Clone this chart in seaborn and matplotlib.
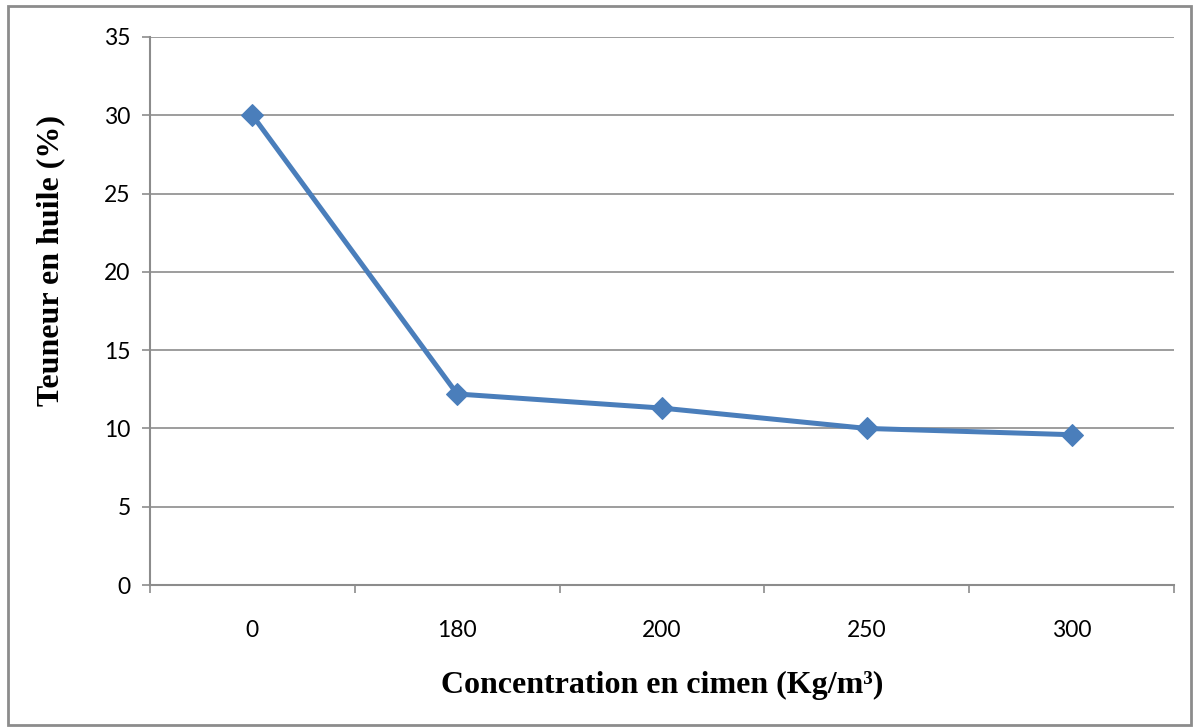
import matplotlib
matplotlib.use("Agg")
import matplotlib.pyplot as plt
import seaborn as sns
import pandas as pd
from matplotlib.patches import Rectangle

categories = ["0", "180", "200", "250", "300"]
teneur = [30.0, 12.2, 11.3, 10.0, 9.6]
yticks = [0, 5, 10, 15, 20, 25, 30, 35]

sns.set_theme(style="white")
plt.rcParams['font.family'] = ['Lato', 'DejaVu Sans']

df = pd.DataFrame({"cat": categories, "val": teneur})

fig = plt.figure(figsize=(11.99, 7.28), dpi=100)
ax = fig.add_axes([0.1251, 0.1964, 0.854, 0.7528])

sns.lineplot(data=df, x="cat", y="val", ax=ax, color="#4A7EBB", linewidth=3.6,
             marker="D", markersize=11, markeredgecolor="#4A7EBB", sort=False)

ax.set_ylim(0, 35)
ax.set_yticks(yticks)
ax.set_xlim(-0.5, len(categories) - 0.5)
ax.set_xticks(range(len(categories)))
ax.set_xticklabels(categories)
ax.set_xticks([i - 0.5 for i in range(len(categories) + 1)], minor=True)

ax.yaxis.grid(True, color="#8C8C8C", linewidth=1.2)
ax.set_axisbelow(True)
for s in ["top", "right"]:
    ax.spines[s].set_visible(False)
for s in ["left", "bottom"]:
    ax.spines[s].set_color("#8C8C8C")
    ax.spines[s].set_linewidth(1.5)

ax.tick_params(axis="y", which="major", length=6, width=1.2, color="#8C8C8C",
               direction="out", left=True, labelsize=16.5, pad=8, labelcolor="black")
ax.tick_params(axis="x", which="major", length=0, labelsize=16.5, pad=25, labelcolor="black")
ax.tick_params(axis="x", which="minor", length=6, width=1.2, color="#8C8C8C",
               direction="out", bottom=True)

ax.set_xlabel("Concentration en cimen (Kg/m³)", family="Liberation Serif",
              fontweight="bold", fontsize=23, labelpad=22, color="black")
ax.set_ylabel("Teuneur en huile (%)", family="Liberation Serif",
              fontweight="bold", fontsize=23, color="black")
ax.yaxis.set_label_coords(-0.083, 0.593)

fig.patches.append(Rectangle((0.0067, 0.004), 0.9866, 0.988, transform=fig.transFigure,
                             fill=False, edgecolor="#8C8C8C", linewidth=2))

fig.savefig("out.png", dpi=100)
